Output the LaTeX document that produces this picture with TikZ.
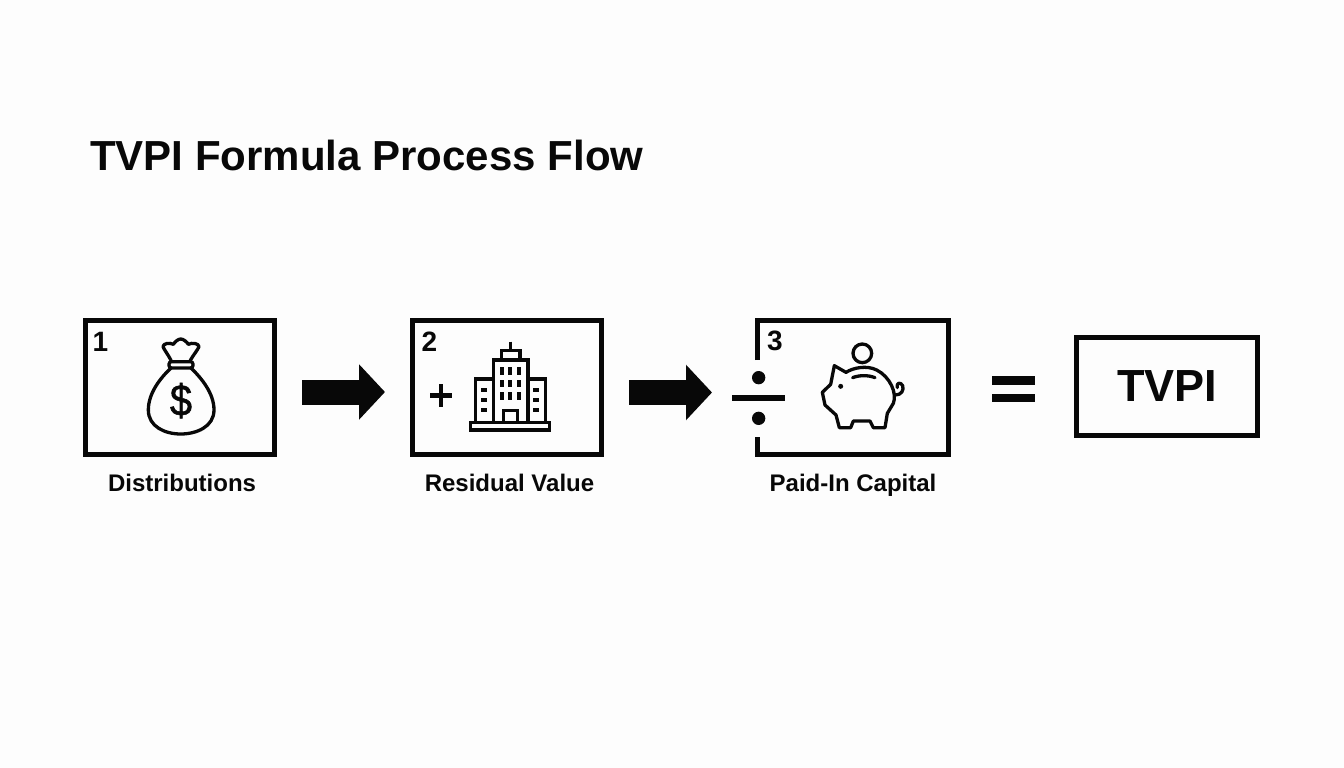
\documentclass[tikz,border=0pt]{standalone}
\usepackage{fontspec}
\setmainfont{Liberation Sans}
\newfontfamily\dollarfont[FakeStretch=0.9,FakeBold=1.2]{Liberation Sans}
\usetikzlibrary{arrows.meta,calc}
\definecolor{ink}{HTML}{080808}
\definecolor{paper}{HTML}{FDFDFD}
\newcommand{\fsz}[1]{\fontsize{#1}{#1}\selectfont\bfseries}
\tikzset{
  box/.style={draw=ink,line width=5pt,fill=none,inner sep=0pt,outer sep=2.5pt},
  stepbox/.style={box,minimum width=189pt,minimum height=134pt},
  caption/.style={text=ink,inner sep=0pt,font=\fsz{24}},
  num/.style={text=ink,inner sep=0pt,font=\fsz{28}},
  blockarrow/.style={draw=ink,line width=25pt,-{Triangle[length=26pt,width=54pt,fill=ink]}},
  icon/.style={draw=ink,line width=3.3pt,line join=round,line cap=round}
}
\begin{document}
\begin{tikzpicture}[x=1pt,y=-1pt]
\useasboundingbox (0,0) rectangle (1344,768);
\fill[paper] (0,0) rectangle (1344,768);
% title
\node[anchor=base west,text=ink,inner sep=0pt,font=\fsz{42}] (title) at (90,170.7) {TVPI Formula Process Flow};
% boxes
\node[stepbox] (b1) at (180,387.5) {};
\node[stepbox] (b2) at (507,387.5) {};
\node[minimum width=196pt,minimum height=139pt,inner sep=0pt,outer sep=0pt] (b3) at (853,387.5) {};
\coordinate (g1) at ($(b3.north west)+(2.5,42)$);
\coordinate (g2) at ($(b3.south west)+(2.5,-20)$);
\draw[draw=ink,line width=5pt,line join=miter] (g1) -- ($(b3.north west)+(2.5,2.5)$) -- ($(b3.north east)+(-2.5,2.5)$) -- ($(b3.south east)+(-2.5,-2.5)$) -- ($(b3.south west)+(2.5,-2.5)$) -- (g2);
\node[box,minimum width=181pt,minimum height=98pt,font=\fsz{45},text=ink] (res) at (1167,386) {TVPI};
% numbers
\node[num] (n1) at (100.5,342) {1};
\node[num] (n2) at (429.5,342) {2};
\node[num] (n3) at (775,341) {3};
% captions
\node[caption,anchor=base] (c1) at (182,491) {Distributions};
\node[caption,anchor=base] (c2) at (509.5,491) {Residual Value};
\node[caption,anchor=base] (c3) at (853,491) {Paid-In Capital};
% arrows
\draw[blockarrow] ($(b1.east)+(25,4.5)$) -- ($(b2.west)+(-25,4.5)$);
\draw[blockarrow] ($(b2.east)+(25,5)$) -- ($(b3.west)+(-43,5)$);
% equals
\fill[ink] (991.7,376) rectangle (1035.3,384.7);
\fill[ink] (991.7,393.7) rectangle (1035.3,402.3);
% money bag
\begin{scope}[shift={(135,335)},x=1pt/3,y=-1pt/3]
\draw[icon] (108,76) .. controls (100,60) and (88,45) .. (84,35) .. controls (84,25) and (105,22) .. (115,28) .. controls (120,20) and (130,12) .. (137,12) .. controls (145,12) and (155,20) .. (160,28) .. controls (170,22) and (192,25) .. (192,35) .. controls (188,45) and (175,60) .. (166,76);
\draw[icon,rounded corners=2.5pt] (102,80) rectangle (174,99);
\draw[icon] (108,99) .. controls (75,130) and (40,175) .. (40,225) .. controls (40,275) and (90,297) .. (137,297) .. controls (185,297) and (237,275) .. (237,225) .. controls (237,175) and (200,130) .. (168,99);
\node[text=ink,inner sep=0pt,font=\dollarfont\fontsize{44}{44}\selectfont] (dollar) at (138,197) {\$};
\end{scope}
% building
\begin{scope}[shift={(400,300)},x=1pt/3,y=-1pt/3]
\draw[icon,line join=miter,line cap=butt] (212,392) -- (212,367) -- (448,367) -- (448,392);
\fill[ink] (207,385) rectangle (453,396);
\draw[icon,line join=miter] (280,367) -- (280,180) -- (384,180) -- (384,367);
\draw[icon,line join=miter] (280,237) -- (226,237) -- (226,367);
\draw[icon,line join=miter] (384,237) -- (437,237) -- (437,367);
\draw[icon,line join=miter] (305,180) -- (305,152) -- (360,152) -- (360,180);
\draw[icon,line cap=butt] (331,125) -- (331,152);
\draw[icon,line join=miter] (310,367) -- (310,332) -- (352,332) -- (352,367);
\foreach \xx in {305,331,356}\foreach \yy in {213,250,288}{\fill[ink] (\xx-6,\yy-11) rectangle (\xx+6,\yy+11);}
\foreach \xx in {253,409}\foreach \yy in {269,299,329}{\fill[ink] (\xx-9,\yy-6) rectangle (\xx+9,\yy+6);}
% plus
\draw[draw=ink,line width=4.6pt] (90,286) -- (157,286);
\draw[draw=ink,line width=4.6pt] (123,253) -- (123,320);
\end{scope}
% divide
\begin{scope}[shift={(720,300)},x=1pt/3,y=-1pt/3]
\draw[draw=ink,line width=5.6pt] (37,294) -- (195,294);
\fill[ink] (116,233) circle (20);
\fill[ink] (116,355) circle (20);
\end{scope}
% piggy
\begin{scope}[shift={(810,335)},x=1pt/3,y=-1pt/3]
\draw[icon] (157,55) circle (28);
\draw[icon] (73,92) -- (108,112) .. controls (130,98) and (170,90) .. (200,105) .. controls (240,125) and (262,175) .. (250,205) -- (232,235) -- (225,278) -- (190,278) -- (180,258) -- (130,258) -- (122,278) -- (88,278) -- (78,240) -- (45,210) -- (37,172) -- (62,148) -- cycle;
\draw[icon] (128,128) .. controls (148,120) and (175,120) .. (195,128);
\fill[ink] (92,154) circle (7.5);
\draw[icon] (256,180) .. controls (275,180) and (282,165) .. (278,152) .. controls (272,140) and (258,143) .. (262,158);
\end{scope}
\end{tikzpicture}
\end{document}
